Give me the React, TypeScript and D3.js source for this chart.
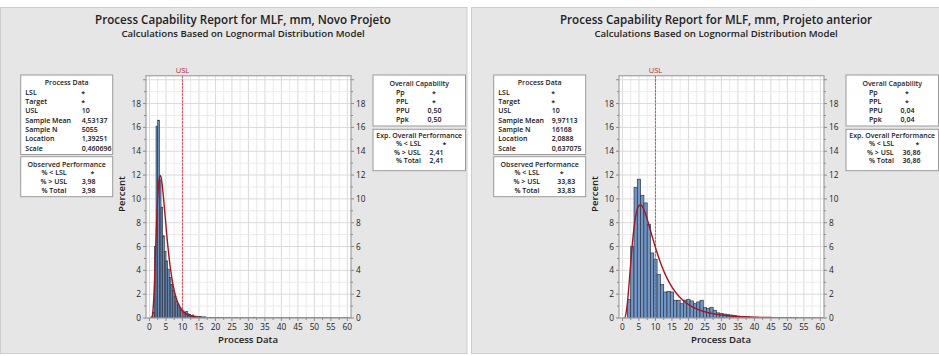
import React from "react";
import * as d3 from "d3";

const FONT = "'Open Sans', 'Noto Sans', sans-serif";

const titles = [
  "Process Capability Report for MLF, mm, Novo Projeto",
  "Process Capability Report for MLF, mm, Projeto anterior",
];
const subtitle = "Calculations Based on Lognormal Distribution Model";
const xAxisTitle = "Process Data";
const yAxisTitle = "Percent";

const usl = 10;
const xTicks = [0, 5, 10, 15, 20, 25, 30, 35, 40, 45, 50, 55, 60];
const yTicks = [0, 2, 4, 6, 8, 10, 12, 14, 16, 18];

// Histogram: lower bin edges and percent per bin
const leftBinWidth = 0.5;
const leftBinEdges = [
  0.5, 1.0, 1.5, 2.0, 2.5, 3.0, 3.5, 4.0, 4.5, 5.0, 5.5, 6.0, 6.5, 7.0, 7.5, 8.0,
  8.5, 9.0, 9.5, 10.0, 10.5, 11.0, 11.5, 12.0, 12.5, 13.0, 13.5, 14.0, 14.5, 15.0,
  15.5, 16.0, 16.5, 17.0, 17.5, 18.0, 18.5, 19.0, 19.5, 20.0, 20.5, 21.0, 21.5,
  22.0, 23.0, 24.0, 26.0, 28.0, 31.5,
];
const leftBinPercent = [
  0.1, 0.5, 6.0, 16.1, 16.6, 11.6, 9.3, 6.9, 5.6, 4.8, 4.1, 3.4, 2.8, 2.3, 1.8, 1.4,
  1.1, 0.9, 0.7, 0.6, 0.45, 0.55, 0.35, 0.3, 0.2, 0.25, 0.15, 0.15, 0.1, 0.12,
  0.1, 0.08, 0.1, 0.06, 0.05, 0.05, 0.04, 0.03, 0.03, 0.03, 0.04, 0.05, 0.02,
  0.02, 0.02, 0.02, 0.02, 0.01, 0.06,
];

const rightBinWidth = 1;
const rightBinEdges = [
  1.5, 2.5, 3.5, 4.5, 5.5, 6.5, 7.5, 8.5, 9.5, 10.5, 11.5, 12.5, 13.5, 14.5, 15.5,
  16.5, 17.5, 18.5, 19.5, 20.5, 21.5, 22.5, 23.5, 24.5, 25.5, 26.5, 27.5, 28.5,
  29.5, 30.5, 31.5, 32.5, 33.5, 34.5, 35.5, 36.5, 37.5, 38.5, 39.5, 40.5, 41.5,
  42.5, 43.5, 44.5, 45.5, 46.5, 47.5, 49.5,
];
const rightBinPercent = [
  1.55, 6.0, 10.97, 11.65, 10.3, 9.66, 7.87, 5.46, 4.9, 3.67, 2.8, 2.18, 2.24, 2.18,
  1.49, 1.49, 1.2, 1.5, 1.57, 1.43, 1.2, 1.35, 1.49, 0.87, 0.8, 0.87, 0.65, 0.43,
  0.37, 0.33, 0.28, 0.25, 0.2, 0.15, 0.15, 0.12, 0.1, 0.08, 0.06, 0.05, 0.05,
  0.04, 0.03, 0.03, 0.02, 0.02, 0.02, 0.01,
];

const leftLocation = 1.39251;
const leftScale = 0.460696;
const rightLocation = 2.0888;
const rightScale = 0.637075;

const processDataLabels = ["LSL", "Target", "USL", "Sample Mean", "Sample N", "Location", "Scale"];
const leftProcessData = ["*", "*", "10", "4,53137", "5055", "1,39251", "0,460696"];
const rightProcessData = ["*", "*", "10", "9,97113", "16168", "2,0888", "0,637075"];
const perfLabels = ["% < LSL", "% > USL", "% Total"];
const leftObserved = ["*", "3,98", "3,98"];
const rightObserved = ["*", "33,83", "33,83"];
const capLabels = ["Pp", "PPL", "PPU", "Ppk"];
const leftCap = ["*", "*", "0,50", "0,50"];
const rightCap = ["*", "*", "0,04", "0,04"];
const leftExp = ["*", "2,41", "2,41"];
const rightExp = ["*", "36,86", "36,86"];

type BoxProps = {
  x: number; y: number; w: number; h: number; header: string; headerY: number;
  labels: string[]; values: string[]; rowYs: number[]; labelX: number[]; valX: number; starX: number;
};

function Box(p: BoxProps) {
  const fs = 7;
  return (
    <g>
      <rect x={p.x} y={p.y} width={p.w} height={p.h} fill="#fff" stroke="#9a9a9a" strokeWidth={1} />
      <text x={p.x + p.w / 2} y={p.headerY + 2.5} textAnchor="middle" fontSize={fs} fontWeight={600} fill="#222" fontFamily={FONT}>
        {p.header}
      </text>
      {p.labels.map((l, i) => (
        <g key={l}>
          <text x={p.labelX[i]} y={p.rowYs[i] + 2.5} fontSize={fs} fontWeight={600} fill="#111" fontFamily={FONT}>{l}</text>
          {p.values[i] === "*" ? (
            <text x={p.starX} y={p.rowYs[i] + 3.5} textAnchor="middle" fontSize={fs} fontWeight={600} fill="#111" fontFamily={FONT}>*</text>
          ) : (
            <text x={p.valX} y={p.rowYs[i] + 2.5} fontSize={fs} fontWeight={600} fill="#111" fontFamily={FONT}>{p.values[i]}</text>
          )}
        </g>
      ))}
    </g>
  );
}

type PanelProps = {
  ox: number; idx: number; title: string; edges: number[]; pcts: number[]; bw: number;
  loc: number; sc: number; pd: string[]; obs: string[]; cap: string[]; exp: string[];
  pdValX: number; obsValX: number; obsStarX: number;
};

function Panel(p: PanelProps) {
  const { ox } = p;
  const pl = ox + 146, pr = ox + 351, pt = 75.7, pb = 318;
  const x = d3.scaleLinear().domain([-1.05, 61.1]).range([pl, pr]);
  const y = d3.scaleLinear().domain([0, 20.34]).range([pb, pt]);
  const pdf = (v: number) =>
    (Math.exp(-Math.pow(Math.log(v) - p.loc, 2) / (2 * p.sc * p.sc)) / (v * p.sc * Math.sqrt(2 * Math.PI))) * 100 * p.bw;
  const xs = d3.range(0.2, 61.1, 0.05);
  const line = d3.line<number>().x((v) => x(v)).y((v) => y(pdf(v)));
  const clipId = `clip${p.idx}`;
  const minorX = d3.range(0, 61, 2.5);
  const minorY = d3.range(0, 21, 1);
  const rowsPD = [92.3, 101.6, 110.9, 120.2, 129.5, 138.8, 148.1];
  const rowsObs = [172.8, 181.7, 190.6];
  const rowsCap = [92, 101.3, 110.6, 119.7];
  const rowsExp = [143.3, 152, 160.8];
  return (
    <g>
      <text x={ox + 243} y={23.6} textAnchor="middle" fontSize={11.6} fontWeight={600} fill="#222" fontFamily={FONT}>{p.title}</text>
      <text x={ox + 243} y={37.4} textAnchor="middle" fontSize={9.6} fontWeight={600} fill="#222" fontFamily={FONT}>{subtitle}</text>
      <defs>
        <clipPath id={clipId}>
          <rect x={pl} y={pt} width={pr - pl} height={pb - pt} />
        </clipPath>
      </defs>
      <rect x={pl} y={pt} width={pr - pl} height={pb - pt} fill="#fff" />
      {minorX.map((v) => (
        <line key={"gx" + v} x1={x(v)} x2={x(v)} y1={pt} y2={pb} stroke={v % 5 === 0 ? "#dadada" : "#ebebeb"} strokeWidth={1} />
      ))}
      {minorY.map((v) => (
        <line key={"gy" + v} x1={pl} x2={pr} y1={y(v)} y2={y(v)} stroke={v % 2 === 0 ? "#dadada" : "#ebebeb"} strokeWidth={1} />
      ))}
      <g clipPath={`url(#${clipId})`}>
        {p.edges.map((e, i) => (
          <rect key={"b" + i} x={x(e)} y={y(p.pcts[i])} width={x(e + p.bw) - x(e)} height={y(0) - y(p.pcts[i])}
            fill="#7097c9" stroke="#2f3640" strokeWidth={0.7} />
        ))}
        <line x1={x(usl)} x2={x(usl)} y1={pt} y2={pb} stroke="#e0464a" strokeWidth={1} strokeDasharray="2.5,1" />
        <path d={line(xs) || ""} fill="none" stroke="#a5161c" strokeWidth={1.4} />
      </g>
      <rect x={pl} y={pt} width={pr - pl} height={pb - pt} fill="none" stroke="#a6a6a6" strokeWidth={1.3} />
      <text x={x(usl)} y={72.8} textAnchor="middle" fontSize={7.5} fill="#b5282c" fontFamily={FONT}>USL</text>
      {minorY.filter((v) => v <= 20).map((v) => (
        <g key={"ty" + v}>
          <line x1={pl - (v % 2 === 0 ? 3 : 2)} x2={pl} y1={y(v)} y2={y(v)} stroke="#8a8a8a" />
          <line x1={pr} x2={pr + (v % 2 === 0 ? 3 : 2)} y1={y(v)} y2={y(v)} stroke="#8a8a8a" />
        </g>
      ))}
      {yTicks.map((v) => (
        <g key={"yl" + v}>
          <text x={pl - 5} y={y(v) + 3} textAnchor="end" fontSize={8.3} fill="#222" fontFamily={FONT}>{v}</text>
          <text x={pr + 5} y={y(v) + 3} textAnchor="start" fontSize={8.3} fill="#222" fontFamily={FONT}>{v}</text>
        </g>
      ))}
      {minorX.map((v) => (
        <line key={"tx" + v} x1={x(v)} x2={x(v)} y1={pb} y2={pb + (v % 5 === 0 ? 3 : 2)} stroke="#8a8a8a" />
      ))}
      {xTicks.map((v) => (
        <text key={"xl" + v} x={x(v)} y={329.5} textAnchor="middle" fontSize={8.3} fill="#222" fontFamily={FONT}>{v}</text>
      ))}
      <text x={ox + 248} y={342.5} textAnchor="middle" fontSize={9.6} fontWeight={600} fill="#222" fontFamily={FONT}>{xAxisTitle}</text>
      <text transform={`translate(${ox + 125},194) rotate(-90)`} textAnchor="middle" fontSize={9.6} fontWeight={600} fill="#222" fontFamily={FONT}>{yAxisTitle}</text>

      <Box x={ox + 20.7} y={75} w={92} h={79.5} header="Process Data" headerY={82.8}
        labels={processDataLabels} values={p.pd} rowYs={rowsPD} labelX={processDataLabels.map(() => ox + 25.3)}
        valX={ox + p.pdValX} starX={ox + p.pdValX + 1.5} />
      <Box x={ox + 20.7} y={156.7} w={92} h={40} header="Observed Performance" headerY={164}
        labels={perfLabels} values={p.obs} rowYs={rowsObs} labelX={[ox + 41.5, ox + 40.5, ox + 41.5]}
        valX={ox + p.obsValX} starX={ox + p.obsStarX} />
      <Box x={ox + 373} y={75} w={92.5} h={51} header="Overall Capability" headerY={83.3}
        labels={capLabels} values={p.cap} rowYs={rowsCap} labelX={capLabels.map(() => ox + 396)}
        valX={ox + 427.5} starX={ox + 434} />
      <Box x={ox + 373} y={129.3} w={92.5} h={41.4} header="Exp. Overall Performance" headerY={135.3}
        labels={perfLabels} values={p.exp} rowYs={rowsExp} labelX={[ox + 396, ox + 394, ox + 396]}
        valX={ox + 429.5} starX={ox + 444.5} />
    </g>
  );
}

export default function App() {
  return (
    <svg width={939} height={356} style={{ position: "absolute", left: 0, top: 0, display: "block" }}>
      <rect x={0} y={0} width={939} height={356} fill="#fff" />
      <rect x={0.5} y={7.5} width={466.5} height={346} fill="#e6e6e6" stroke="#cdcdcd" />
      <rect x={471.5} y={7.5} width={468} height={346} fill="#e6e6e6" stroke="#cdcdcd" />
      <Panel ox={0} idx={0} title={titles[0]} edges={leftBinEdges} pcts={leftBinPercent} bw={leftBinWidth}
        loc={leftLocation} sc={leftScale} pd={leftProcessData} obs={leftObserved} cap={leftCap} exp={leftExp}
        pdValX={81.7} obsValX={81.7} obsStarX={92.5} />
      <Panel ox={473} idx={1} title={titles[1]} edges={rightBinEdges} pcts={rightBinPercent} bw={rightBinWidth}
        loc={rightLocation} sc={rightScale} pd={rightProcessData} obs={rightObserved} cap={rightCap} exp={rightExp}
        pdValX={78.7} obsValX={84.3} obsStarX={88.7} />
    </svg>
  );
}
